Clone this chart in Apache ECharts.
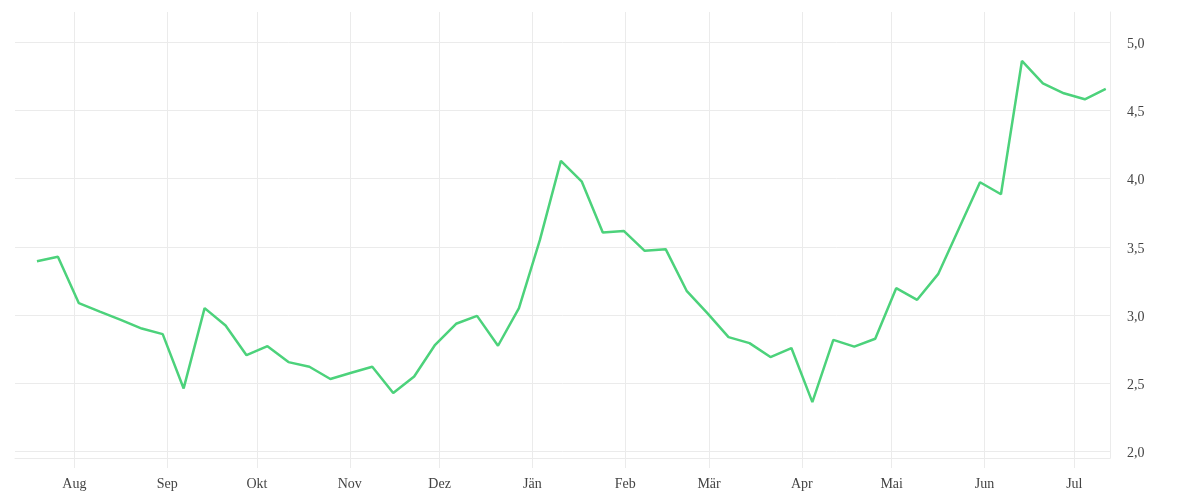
<!DOCTYPE html>
<html>
<head>
<meta charset="utf-8">
<script src="https://cdn.jsdelivr.net/npm/echarts@6/dist/echarts.min.js"></script>
<style>
html,body{margin:0;padding:0;background:#fff;}
#chart{width:1200px;height:500px;}
</style>
</head>
<body>
<div id="chart"></div>
<script>
const dates = [
 '2022-07-19 12:00','2022-07-26 12:00','2022-08-02 12:00','2022-08-09 12:00','2022-08-16 12:00','2022-08-23 12:00','2022-08-30 12:00',
 '2022-09-06 12:00','2022-09-13 12:00','2022-09-20 12:00','2022-09-27 12:00','2022-10-04 12:00','2022-10-11 12:00','2022-10-18 12:00',
 '2022-10-25 12:00','2022-11-01 12:00','2022-11-08 12:00','2022-11-15 12:00','2022-11-22 12:00','2022-11-29 12:00','2022-12-06 12:00',
 '2022-12-13 12:00','2022-12-20 12:00','2022-12-27 12:00','2023-01-03 12:00','2023-01-10 12:00','2023-01-17 12:00','2023-01-24 12:00',
 '2023-01-31 12:00','2023-02-07 12:00','2023-02-14 12:00','2023-02-21 12:00','2023-02-28 12:00','2023-03-07 12:00','2023-03-14 12:00',
 '2023-03-21 12:00','2023-03-28 12:00','2023-04-04 12:00','2023-04-11 12:00','2023-04-18 12:00','2023-04-25 12:00','2023-05-02 12:00',
 '2023-05-09 12:00','2023-05-16 12:00','2023-05-23 12:00','2023-05-30 12:00','2023-06-06 12:00','2023-06-13 12:00','2023-06-20 12:00',
 '2023-06-27 12:00','2023-07-04 12:00','2023-07-11 12:00'
];
const values = [
 3.395, 3.427, 3.087, 3.025, 2.965, 2.901, 2.860,
 2.462, 3.051, 2.923, 2.706, 2.772, 2.655, 2.621,
 2.531, 2.577, 2.621, 2.428, 2.550, 2.782, 2.936,
 2.994, 2.775, 3.051, 3.551, 4.130, 3.978, 3.605,
 3.617, 3.471, 3.483, 3.178, 3.012, 2.838, 2.794,
 2.692, 2.758, 2.362, 2.818, 2.769, 2.826, 3.197,
 3.112, 3.300, 3.637, 3.974, 3.886, 4.863, 4.699,
 4.626, 4.582, 4.658
];
const monthNames = ['Jän','Feb','Mär','Apr','Mai','Jun','Jul','Aug','Sep','Okt','Nov','Dez'];
const xStart = '2022-07-12 04:00';
const xEnd = '2023-07-12 22:00';
const yMin = 1.952;
const yMax = 5.222;

function parseLocal(s){
  const [d,t] = s.split(' ');
  const [y,m,dd] = d.split('-').map(Number);
  const [hh,mm] = (t||'00:00').split(':').map(Number);
  return new Date(y, m-1, dd, hh, mm).getTime();
}

const seriesData = dates.map((d,i)=>[parseLocal(d), values[i]]);
const DAY = 86400000;
const font = 'Liberation Serif';

const chart = echarts.init(document.getElementById('chart'));
chart.setOption({
  animation:false,
  backgroundColor:'#ffffff',
  grid:{left:15,right:90,top:12,bottom:42,containLabel:false},
  xAxis:{
    type:'time',
    min:parseLocal(xStart),
    max:parseLocal(xEnd),
    minInterval:28*DAY,
    maxInterval:31*DAY,
    axisLine:{show:true,lineStyle:{color:'#ebebeb',width:1}},
    axisTick:{show:true,length:10,lineStyle:{color:'#ebebeb'}},
    splitLine:{show:true,showMinLine:false,lineStyle:{color:'#ebebeb',width:1}},
    axisLabel:{
      color:'#444',fontFamily:font,fontSize:14,margin:19,
      hideOverlap:false,
      formatter:function(v){return monthNames[new Date(v).getMonth()];}
    }
  },
  yAxis:{
    type:'value',
    position:'right',
    min:yMin,
    max:yMax,
    axisLine:{show:true,lineStyle:{color:'#ebebeb',width:1}},
    axisTick:{show:false},
    splitLine:{show:true,showMaxLine:false,lineStyle:{color:'#ebebeb',width:1}},
    axisLabel:{
      color:'#444',fontFamily:font,fontSize:14,margin:17,verticalAlign:'top',lineHeight:14,padding:[-5,0,0,0],
      showMinLabel:false,showMaxLabel:false,
      formatter:function(v){
        if (Math.abs(v*2 - Math.round(v*2))>1e-6) return '';
        return v.toFixed(1).replace('.',',');
      }
    }
  },
  series:[{
    type:'line',
    data:seriesData,
    showSymbol:false,
    symbol:'none',
    lineStyle:{color:'#4cd27b',width:2.5},
    itemStyle:{color:'#4cd27b'}
  }]
});
</script>
</body>
</html>
